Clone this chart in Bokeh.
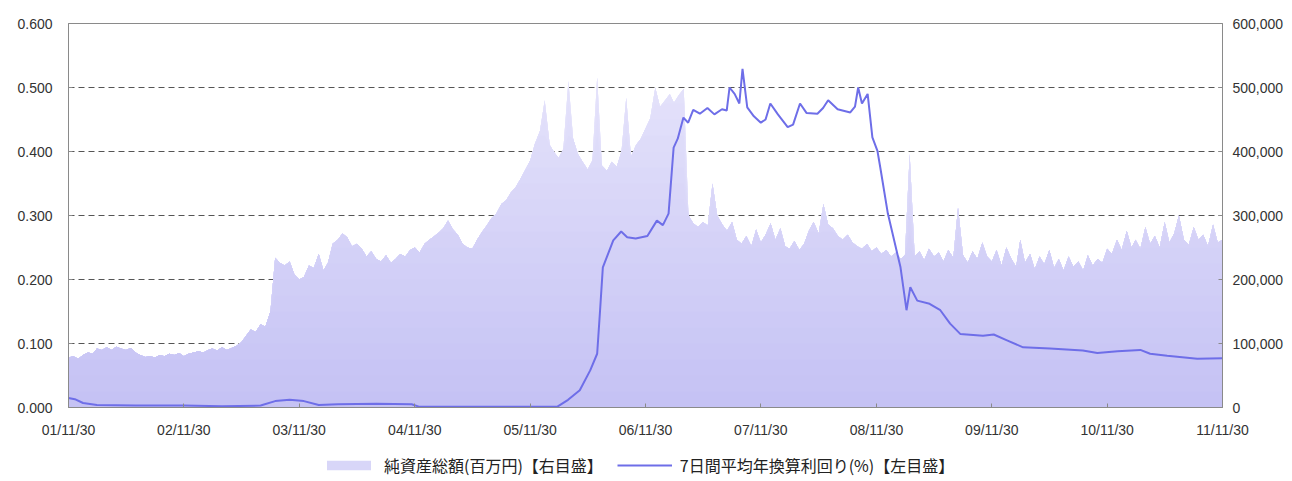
import numpy as np
import pandas as pd
from bokeh.plotting import figure
from bokeh.layouts import column
from bokeh.models import (Range1d, LinearAxis, NumeralTickFormatter, FixedTicker,
                          DatetimeTickFormatter, Legend, LegendItem)
from bokeh.embed import file_html
from bokeh.resources import INLINE

# ---------------- data ----------------
# 純資産総額 (thousands of 百万円), semi-monthly from 2001-11-30 to 2011-11-30
aum_k = [
    78, 80, 76, 82, 86, 84, 92, 90, 94, 90, 95, 92, 90, 93, 86, 82, 79, 80, 78, 82, 80, 84, 82, 85,
    80, 84, 86, 88, 86, 90, 92, 89, 94, 90, 93, 96, 102, 112, 122, 118, 130, 126, 150, 234, 226, 222, 228, 208,
    200, 204, 222, 218, 240, 214, 226, 256, 262, 272, 266, 252, 256, 248, 236, 244, 232, 228, 238, 226, 232, 240, 236, 246,
    250, 242, 256, 262, 268, 274, 280, 292, 278, 270, 256, 250, 248, 262, 274, 284, 296, 303, 318, 324, 336, 344, 358, 372,
    386, 412, 432, 480, 410, 398, 390, 404, 510, 420, 396, 384, 372, 386, 516, 378, 370, 384, 376, 400, 484, 392, 410, 420,
    436, 452, 500, 470, 480, 490, 476, 488, 498, 300, 288, 282, 290, 284, 350, 300, 286, 276, 290, 262, 256, 268, 252, 278,
    258, 270, 288, 262, 280, 252, 248, 260, 246, 256, 276, 290, 272, 318, 286, 280, 268, 262, 270, 258, 252, 248, 256, 244,
    250, 240, 246, 236, 242, 232, 238, 396, 236, 244, 230, 248, 236, 242, 228, 246, 234, 312, 238, 226, 244, 232, 258, 236,
    228, 246, 222, 250, 232, 220, 262, 226, 240, 216, 236, 224, 246, 218, 232, 214, 236, 220, 228, 214, 238, 222, 232, 226,
    248, 240, 262, 246, 276, 250, 262, 248, 282, 256, 268, 250, 290, 258, 272, 300, 262, 254, 282, 262, 270, 252, 286, 258,
    262,
]

# 7日間平均年換算利回り (%)
yield_dates = [
    "2001-11-30", "2001-12-20", "2002-01-15", "2002-02-28", "2002-06-30", "2002-11-30",
    "2003-03-31", "2003-07-31", "2003-09-15", "2003-10-31", "2003-12-15", "2004-01-31",
    "2004-03-31", "2004-07-31", "2004-11-20", "2004-12-15", "2005-06-30", "2005-12-31",
    "2006-02-23", "2006-03-30", "2006-05-06", "2006-06-08", "2006-06-30", "2006-07-09",
    "2006-07-18", "2006-08-20", "2006-09-14", "2006-10-03", "2006-10-30", "2006-12-06",
    "2007-01-05", "2007-01-24", "2007-02-11", "2007-02-27", "2007-03-12", "2007-03-30",
    "2007-04-14", "2007-04-30", "2007-05-21", "2007-06-14", "2007-07-06", "2007-07-30",
    "2007-08-14", "2007-08-23", "2007-09-08", "2007-09-23", "2007-10-03", "2007-10-18",
    "2007-11-08", "2007-11-30", "2007-12-15", "2007-12-30", "2008-01-23", "2008-02-23",
    "2008-03-11", "2008-04-02", "2008-04-23", "2008-05-27", "2008-06-14", "2008-06-30",
    "2008-07-30", "2008-09-08", "2008-09-23", "2008-10-03", "2008-10-15", "2008-11-02",
    "2008-11-17", "2008-12-03", "2008-12-12", "2009-01-05", "2009-02-14", "2009-03-05",
    "2009-03-17", "2009-04-08", "2009-05-17", "2009-06-20", "2009-07-21", "2009-08-22",
    "2009-11-02", "2009-12-06", "2010-01-17", "2010-03-09", "2010-06-02", "2010-09-14",
    "2010-10-30", "2011-01-02", "2011-03-15", "2011-04-15", "2011-06-08", "2011-09-11",
    "2011-11-30",
]
yield_pct = [
    0.015, 0.013, 0.007, 0.004, 0.003, 0.003,
    0.002, 0.003, 0.010, 0.012, 0.010, 0.004,
    0.005, 0.006, 0.005, 0.001, 0.001, 0.001,
    0.001, 0.012, 0.027, 0.058, 0.084, 0.150,
    0.219, 0.261, 0.275, 0.266, 0.264, 0.268,
    0.292, 0.285, 0.303, 0.406, 0.420, 0.453,
    0.445, 0.465, 0.459, 0.468, 0.458, 0.466,
    0.464, 0.500, 0.490, 0.475, 0.529, 0.469,
    0.455, 0.445, 0.450, 0.475, 0.458, 0.438,
    0.442, 0.475, 0.460, 0.459, 0.468, 0.480,
    0.466, 0.461, 0.470, 0.500, 0.475, 0.490,
    0.422, 0.401, 0.375, 0.303, 0.219, 0.152,
    0.188, 0.167, 0.162, 0.152, 0.131, 0.115,
    0.112, 0.114, 0.105, 0.094, 0.092, 0.089,
    0.085, 0.088, 0.090, 0.084, 0.081, 0.076,
    0.077,
]

tick_dates = ["2001-11-30", "2002-11-30", "2003-11-30", "2004-11-30", "2005-11-30", "2006-11-30",
              "2007-11-30", "2008-11-30", "2009-11-30", "2010-11-30", "2011-11-30"]
left_ticks = [0.0, 0.1, 0.2, 0.3, 0.4, 0.5, 0.6]
right_ticks = [0, 100000, 200000, 300000, 400000, 500000, 600000]

label_aum = "純資産総額(百万円)【右目盛】"
label_yield = "7日間平均年換算利回り(%)【左目盛】"

# ---------------- build ----------------
month_ends = pd.date_range("2001-11-30", periods=121, freq="ME")
aum_dates = []
for i, d in enumerate(month_ends):
    aum_dates.append(d)
    if i < 120:
        nxt = month_ends[i + 1]
        aum_dates.append(pd.Timestamp(year=nxt.year, month=nxt.month, day=15))
aum_dates = pd.DatetimeIndex(aum_dates[:len(aum_k)])
aum = np.array(aum_k, dtype=float) * 1000.0

ydates = pd.to_datetime(yield_dates)

def ms(ts):
    return pd.Timestamp(ts).value / 1e6

FONT = "Liberation Sans"
JFONT = "Noto Sans CJK JP"
LINE_COLOR = "#6e6ee8"

p = figure(x_axis_type="datetime", width=1292, height=447,
           output_backend="svg", toolbar_location=None,
           min_border_left=68, min_border_right=70, min_border_top=23, min_border_bottom=40,
           x_range=Range1d(ms("2001-11-30"), ms("2011-11-30")),
           y_range=Range1d(0, 0.6))
p.extra_y_ranges = {"aum": Range1d(0, 600000)}
p.background_fill_color = "white"
p.border_fill_color = "white"
p.outline_line_color = "#8a8a8a"
p.outline_line_width = 1

# gradient-like area: opaque layers, lighter at top, darker at bottom
top_rgb = np.array([234, 232, 252])
bot_rgb = np.array([196, 193, 244])
levels = np.arange(600000, 0, -25000)
for L in levels:
    t = L / 600000.0
    c = (bot_rgb + (top_rgb - bot_rgb) * t).astype(int)
    color = "#%02x%02x%02x" % tuple(c)
    p.varea(x=aum_dates, y1=np.zeros_like(aum), y2=np.minimum(aum, L),
            fill_color=color, fill_alpha=1.0, y_range_name="aum")

p.line(ydates, yield_pct, line_color=LINE_COLOR, line_width=2)

# axes
p.xaxis.ticker = FixedTicker(ticks=[ms(d) for d in tick_dates])
fmt = "%y/%m/%d"
p.xaxis.formatter = DatetimeTickFormatter(years=fmt, months=fmt, days=fmt, hours=fmt,
                                          minutes=fmt, seconds=fmt, milliseconds=fmt,
                                          microseconds=fmt, hourmin=fmt, minsec=fmt)
p.yaxis.ticker = FixedTicker(ticks=left_ticks)
p.yaxis.formatter = NumeralTickFormatter(format="0.000")

right = LinearAxis(y_range_name="aum", ticker=FixedTicker(ticks=right_ticks),
                   formatter=NumeralTickFormatter(format="0,0"))
p.add_layout(right, "right")

for ax in [p.xaxis[0], p.yaxis[0], right]:
    ax.axis_line_color = "#8a8a8a"
    ax.axis_line_width = 1
    ax.major_tick_line_color = "#8a8a8a"
    ax.major_tick_in = 4
    ax.major_tick_out = 0
    ax.minor_tick_line_color = None
    ax.major_label_text_font = FONT
    ax.major_label_text_font_size = "14px"
    ax.major_label_text_color = "#333333"

p.xaxis.major_label_standoff = 14
p.yaxis[0].major_label_standoff = 16
right.major_label_standoff = 10

p.xgrid.grid_line_color = None
p.ygrid.ticker = FixedTicker(ticks=[0.1, 0.2, 0.3, 0.4, 0.5])
p.ygrid.grid_line_color = "#555555"
p.ygrid.grid_line_dash = "6 4"
p.ygrid.grid_line_width = 1

# legend strip below the chart (its frame is aligned with the chart frame)
lf = figure(width=1292, height=34, output_backend="svg", toolbar_location=None,
            x_range=Range1d(0, 1), y_range=Range1d(0, 1),
            min_border_left=0, min_border_right=0, min_border_top=0, min_border_bottom=0)
lf.axis.visible = False
lf.grid.visible = False
lf.outline_line_color = None
lf.border_fill_color = "white"
lf.background_fill_color = "white"
mid = (bot_rgb + (top_rgb - bot_rgb) * 0.55).astype(int)
# legend proxies (kept outside the strip's visible range)
r_area = lf.varea(x=[5, 6], y1=[5, 5], y2=[6, 6], fill_color="#%02x%02x%02x" % tuple(mid))
r_line = lf.line(x=[5, 6], y=[5, 5], line_color=LINE_COLOR, line_width=2)
legend = Legend(items=[LegendItem(label=label_aum, renderers=[r_area]),
                       LegendItem(label=label_yield, renderers=[r_line])],
                orientation="horizontal", location=(253, 4),
                label_text_font=JFONT, label_text_font_size="16px", label_text_color="#222222",
                glyph_width=55, glyph_height=12, label_height=16, spacing=14, label_standoff=8,
                border_line_color=None, background_fill_alpha=0, margin=0, padding=1)
lf.add_layout(legend, "center")

layout = column(p, lf, spacing=0)
open("out.html", "w").write(file_html(layout, INLINE))
